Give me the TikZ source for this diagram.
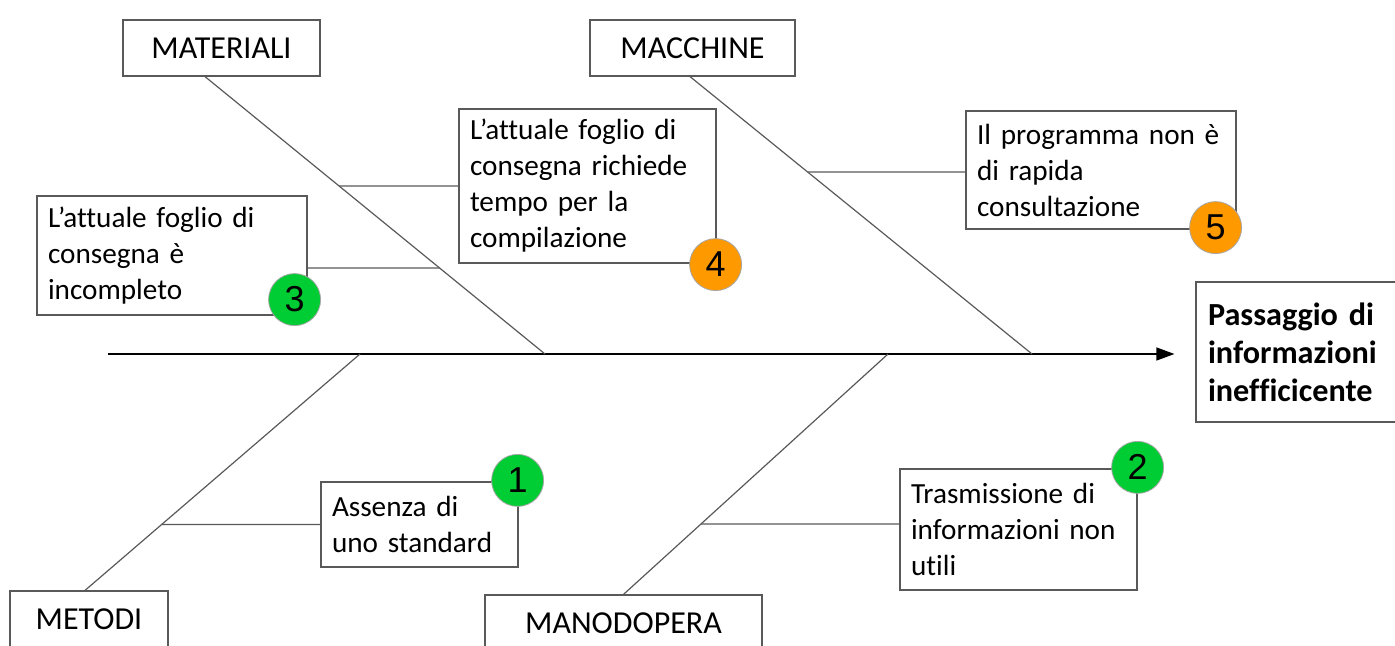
\documentclass[tikz,border=0pt]{standalone}
\usepackage{fontspec}
\setmainfont{Carlito}[Ligatures=NoCommon]
\newfontfamily\numfont{Liberation Sans}
\usetikzlibrary{calc,arrows.meta}
\definecolor{verde}{RGB}{0,204,51}
\definecolor{arancio}{RGB}{255,153,0}

\begin{document}
\begin{tikzpicture}[x=0.5pt, y=-0.5pt,
    categoria/.style={draw=black!65, line width=0.6pt, fill=white, inner sep=0pt, minimum height=28pt, font=\fontsize{16}{19}\selectfont},
    causa/.style={draw=black!65, line width=0.6pt, fill=white, align=left, inner xsep=5.5pt, inner ysep=0pt, font=\fontsize{14.6}{18}\selectfont},
    numero/.style={circle, draw=black!35, line width=0.4pt, minimum size=26pt, inner sep=0pt, font=\numfont\fontsize{18}{18}\selectfont},
    osso/.style={draw=black!65, line width=0.6pt}]
    \useasboundingbox (0,0) rectangle (1395,646);
    \clip (0,0) rectangle (1395,646);

% categorie
    \node[categoria, minimum width=98.5pt] (materiali) at (221.5,48) {MATERIALI};
    \node[categoria, minimum width=102.5pt] (macchine) at (692.5,48) {MACCHINE};
    \node[categoria, minimum width=79pt] (metodi) at (89,619) {METODI};
    \node[categoria, minimum width=138.5pt] (manodopera) at (623.5,623) {MANODOPERA};

% effetto
    \node[causa, inner xsep=6pt, text width=90pt, minimum height=70pt, font=\fontsize{16.1}{19}\selectfont\bfseries] (effetto) at (1298,352) {Passaggio di\\informazioni\\inefficicente};

% cause
    \node[causa, text width=124pt, minimum height=59.5pt] (c3) at (172,255.5) {L’attuale foglio di\\consegna è\\incompleto};
    \node[causa, text width=117.5pt, minimum height=77pt] (c4) at (587.5,186) {L’attuale foglio di\\consegna richiede\\tempo per la\\compilazione};
    \node[causa, text width=124pt, minimum height=59pt] (c5) at (1101,170) {Il programma non è\\di rapida\\consultazione};
    \node[causa, text width=87.5pt, minimum height=42.5pt] (c1) at (419.5,524.5) {Assenza di\\uno standard};
    \node[causa, text width=107.5pt, minimum height=60.5pt] (c2) at (1018.5,529.5) {Trasmissione di\\informazioni non\\utili};

% spina
    \coordinate (coda) at (108,354);
    \draw[line width=0.6pt, -{Triangle[length=9pt,width=6.5pt]}, shorten >=10.5pt] (coda) -- (coda -| effetto.west);

    \coordinate (s1) at (545,354);
    \coordinate (s2) at (1032,354);
    \coordinate (s3) at (360,354);
    \coordinate (s4) at (888,354);
    \coordinate (t1) at ([xshift=-8.25pt]materiali.south);
    \coordinate (t2) at ([xshift=-1.25pt]macchine.south);
    \coordinate (t3) at ([xshift=-2pt]metodi.north);
    \coordinate (t4) at (manodopera.north);
    \draw[osso] (t1) -- (s1);
    \draw[osso] (t2) -- (s2);
    \draw[osso] (t3) -- (s3);
    \draw[osso] (t4) -- (s4);

% rami
    \draw[osso] (c4.west) -- (intersection of t1--s1 and c4.west--c4.east);
    \draw[osso] ([yshift=-6.25pt]c3.east) -- (intersection of t1--s1 and {[yshift=-6.25pt]c3.west}--{[yshift=-6.25pt]c3.east});
    \draw[osso] ([yshift=-1pt]c5.west) -- (intersection of t2--s2 and {[yshift=-1pt]c5.west}--{[yshift=-1pt]c5.east});
    \draw[osso] (c1.west) -- (intersection of t3--s3 and c1.west--c1.east);
    \draw[osso] ([yshift=2.75pt]c2.west) -- (intersection of t4--s4 and {[yshift=2.75pt]c2.west}--{[yshift=2.75pt]c2.east});

% numeri
    \node[numero, fill=verde] (n3) at ([xshift=-6.5pt,yshift=8pt]c3.south east) {3};
    \node[numero, fill=arancio] (n4) at ([xshift=-0.5pt,yshift=-0.5pt]c4.south east) {4};
    \node[numero, fill=arancio] (n5) at ([xshift=-10.5pt,yshift=1pt]c5.south east) {5};
    \node[numero, fill=verde] (n1) at ([xshift=-0.5pt,yshift=0.5pt]c1.north east) {1};
    \node[numero, fill=verde] (n2) at ([yshift=0.5pt]c2.north east) {2};
\end{tikzpicture}
\end{document}
